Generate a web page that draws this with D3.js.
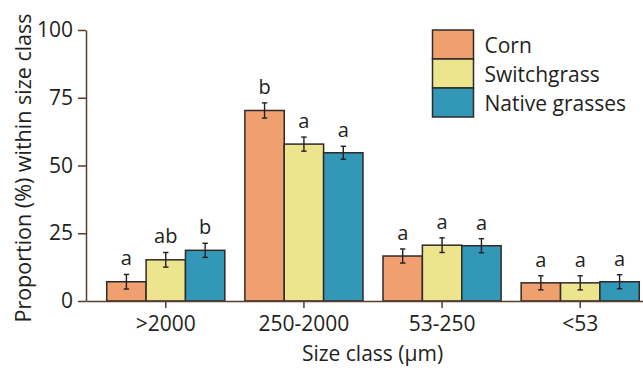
<!DOCTYPE html>
<html>
<head>
<meta charset="utf-8">
<script src="https://cdn.jsdelivr.net/npm/d3@7"></script>
<style>
  body { margin: 0; background: #fff; }
  svg text { font-family: "Open Sans", sans-serif; fill: #231f20; }
</style>
</head>
<body>
<svg width="643" height="368"></svg>
<script>
const width = 643;
const height = 368;

// data
const categories = [">2000", "250-2000", "53-250", "<53"];
const series = ["Corn", "Switchgrass", "Native grasses"];
const cornValues = [7.1, 70.3, 16.6, 6.7];
const cornErrors = [2.7, 2.8, 2.6, 2.6];
const cornLetters = ["a", "b", "a", "a"];
const switchValues = [15.2, 57.9, 20.6, 6.7];
const switchErrors = [2.7, 2.6, 2.7, 2.6];
const switchLetters = ["ab", "a", "a", "a"];
const nativeValues = [18.7, 54.7, 20.4, 7.1];
const nativeErrors = [2.6, 2.4, 2.6, 2.6];
const nativeLetters = ["b", "a", "a", "a"];
const yTicks = [0, 25, 50, 75, 100];

const colors = ["#f0a06e", "#ede48e", "#3398b8"];
const axis_color = "#5a3c2e";
const bar_stroke = "#2e2a28";

const svg = d3.select("svg");

const y = d3.scaleLinear().domain([0, 100]).range([301, 30]);
const x0 = d3.scaleBand().domain(categories).range([86, 660])
  .paddingInner(0.145).paddingOuter(0.15);
const x1 = d3.scaleBand().domain(series).range([0, x0.bandwidth()]);
const color = d3.scaleOrdinal().domain(series).range(colors);

const table = [
  { name: "Corn", values: cornValues, errors: cornErrors, letters: cornLetters },
  { name: "Switchgrass", values: switchValues, errors: switchErrors, letters: switchLetters },
  { name: "Native grasses", values: nativeValues, errors: nativeErrors, letters: nativeLetters },
];

const rows = [];
table.forEach(s => {
  categories.forEach((c, i) => {
    rows.push({ cat: c, series: s.name, value: s.values[i], err: s.errors[i], letter: s.letters[i] });
  });
});

// bars
svg.append("g")
  .selectAll("rect")
  .data(rows)
  .join("rect")
  .attr("x", d => x0(d.cat) + x1(d.series))
  .attr("y", d => y(d.value))
  .attr("width", x1.bandwidth())
  .attr("height", d => y(0) - y(d.value))
  .attr("fill", d => color(d.series))
  .attr("stroke", bar_stroke)
  .attr("stroke-width", 1.5);

// error bars
const err = svg.append("g").attr("stroke", "#231f20").attr("stroke-width", 1.4);
rows.forEach(d => {
  const cx = x0(d.cat) + x1(d.series) + x1.bandwidth() / 2;
  const top = y(d.value + d.err);
  const bot = y(d.value - d.err);
  err.append("line").attr("x1", cx).attr("x2", cx).attr("y1", top).attr("y2", bot);
  err.append("line").attr("x1", cx - 2.7).attr("x2", cx + 2.7).attr("y1", top).attr("y2", top);
  err.append("line").attr("x1", cx - 2.7).attr("x2", cx + 2.7).attr("y1", bot).attr("y2", bot);
});

// significance letters
svg.append("g")
  .selectAll("text")
  .data(rows)
  .join("text")
  .attr("x", d => x0(d.cat) + x1(d.series) + x1.bandwidth() / 2)
  .attr("y", d => y(d.value + d.err) - 9)
  .attr("text-anchor", "middle")
  .style("font-size", "20px")
  .text(d => d.letter);

// y axis
const yAxis = svg.append("g")
  .attr("transform", "translate(86,0)")
  .call(d3.axisLeft(y).tickValues(yTicks).tickSize(8).tickSizeOuter(0).tickPadding(5));

// x axis
const xAxis = svg.append("g")
  .attr("transform", "translate(0,301)")
  .call(d3.axisBottom(x0).tickSize(7).tickSizeOuter(0).tickPadding(8));

[yAxis, xAxis].forEach(a => {
  a.select(".domain").attr("stroke", axis_color).attr("stroke-width", 1.5);
  a.selectAll(".tick line").attr("stroke", axis_color).attr("stroke-width", 1.5);
  a.selectAll(".tick text")
    .attr("fill", "#231f20")
    .style("font-family", "'Open Sans', sans-serif")
    .style("font-size", "21px");
});

// axis titles
svg.append("text")
  .attr("transform", "rotate(-90)")
  .attr("x", -168)
  .attr("y", 31)
  .attr("text-anchor", "middle")
  .style("font-size", "21.5px")
  .text("Proportion (%) within size class");

svg.append("text")
  .attr("x", 372.5)
  .attr("y", 361)
  .attr("text-anchor", "middle")
  .style("font-size", "21px")
  .text("Size class (µm)");

// legend
const legend = svg.append("g").attr("transform", "translate(432.5,30)");
series.forEach((s, i) => {
  legend.append("rect")
    .attr("x", 0)
    .attr("y", i * 29)
    .attr("width", 41)
    .attr("height", 29)
    .attr("fill", color(s))
    .attr("stroke", bar_stroke)
    .attr("stroke-width", 1.5);
  legend.append("text")
    .attr("x", 52)
    .attr("y", i * 29 + 23)
    .style("font-size", "21px")
    .text(s);
});
</script>
</body>
</html>
